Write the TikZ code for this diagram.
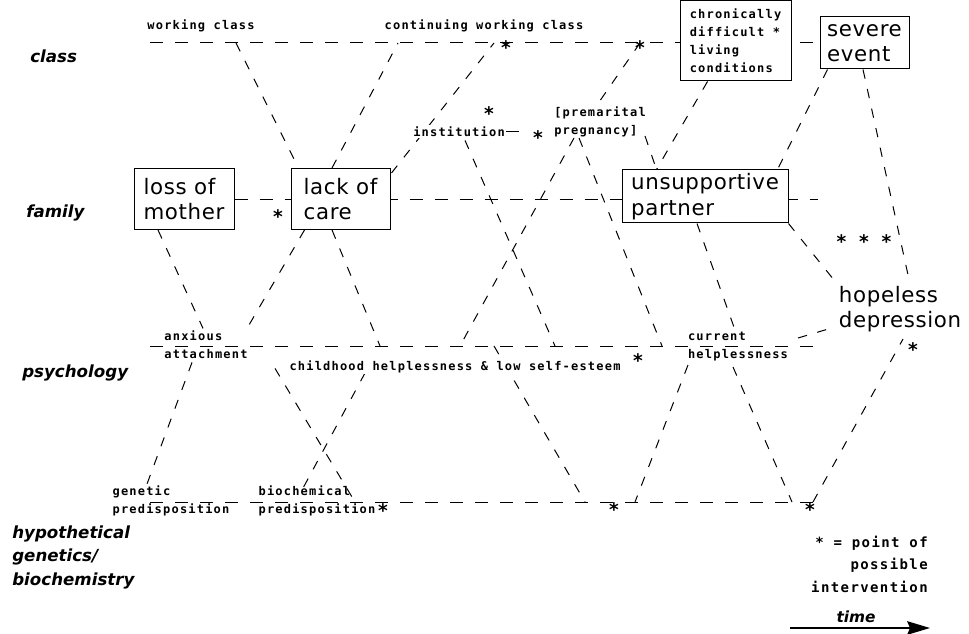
\documentclass[tikz,border=0pt]{standalone}
\usepackage{fontspec}
\setmainfont{DejaVu Sans}
\newfontfamily\monofam{DejaVu Sans Mono}[LetterSpace=10]
\newfontfamily\starfam{DejaVu Sans Mono}
\newfontfamily\boxfam{DejaVu Sans}[LetterSpace=3]
\usetikzlibrary{arrows.meta, calc, backgrounds}

\newcommand{\smallfnt}{\monofam\bfseries\fontsize{9}{13.5}\selectfont}
\newcommand{\legendfnt}{\monofam\bfseries\fontsize{10.5}{17}\selectfont}
\newcommand{\starfnt}{\starfam\bfseries\fontsize{14}{16}\selectfont}
\newcommand{\boxfnt}{\boxfam\fontsize{16}{19}\selectfont}
\newcommand{\levelfnt}{\bfseries\itshape\fontsize{12.5}{17.5}\selectfont}
\newcommand{\timefnt}{\bfseries\itshape\fontsize{11.5}{13}\selectfont}

\tikzset{
  layerline/.style={line width=0.75pt, dash pattern=on 9.75pt off 9pt},
  causal/.style={line width=0.75pt, dash pattern=on 7pt off 8pt},
  bigbox/.style={draw, line width=0.75pt, fill=white, font=\boxfnt, align=left, inner sep=1pt},
  smallbox/.style={draw, line width=0.75pt, fill=white, font=\smallfnt, align=left, inner sep=1pt},
  txt/.style={font=\smallfnt, align=left, inner sep=1pt},
  bigtxt/.style={font=\boxfnt, align=left, inner sep=1pt},
  levellabel/.style={font=\levelfnt, align=left, inner sep=0pt},
  ast/.style={font=\starfnt, inner sep=0pt, yshift=-2.7pt},
  timearrow/.style={line width=2pt, -{Stealth[length=17pt,width=10pt,inset=2pt]}},
}

\begin{document}
\begin{tikzpicture}[x=0.75pt, y=-0.75pt]
\useasboundingbox (0,0) rectangle (969,634);

% levels
\node[levellabel, anchor=base west] (lvclass) at (30,63) {class};
\node[levellabel, anchor=base west] (lvfamily) at (26,218) {family};
\node[levellabel, anchor=base west] (lvpsych) at (22,377) {psychology};
\node[levellabel, anchor=north west] (lvgen) at (12,525.5) {hypothetical\\genetics/\\biochemistry};

% boxes
\node[bigbox, minimum width=75pt, minimum height=45.75pt] (lossmother) at (184,199) {loss of\\mother};
\node[bigbox, minimum width=74.25pt, minimum height=45.75pt] (lackcare) at (340.5,199) {lack of\\care};
\node[bigbox, minimum width=124.5pt, minimum height=39.75pt] (partner) at (705,196.5) {unsupportive\\partner};
\node[bigbox, minimum width=66.75pt, minimum height=39pt] (severe) at (864.5,43) {severe\\event};
\node[smallbox, minimum width=83.25pt, minimum height=60pt] (chronic) at (735.5,41) {chronically\\difficult *\\living\\conditions};
\node[bigtxt] (hopeless) at (900,309) {hopeless\\depression};

% labels
\node[txt] (workclass) at (201,26) {working class};
\node[txt] (contclass) at (484,26) {continuing working class};
\node[txt, fill=white] (institution) at (459,131.4) {institution};
\node[txt] (pregnancy) at (600,122) {[premarital\\pregnancy]};
\node[txt] (anxious) at (206,344.4) {anxious\\attachment};
\node[txt, fill=white] (childhood) at (455,367) {childhood helplessness \& low self-esteem};
\node[txt] (current) at (738,347) {current\\helplessness};
\node[txt] (genetic) at (171,501) {genetic\\predisposition};
\node[txt] (biochem) at (317,501) {biochemical\\predisposition};

% points of possible intervention
\foreach \x/\y [count=\i] in {506/44, 640/44, 489/110, 538/134, 278/213, 638/357, 913/346, 383/507, 614/506, 810/506}
    \node[ast] (star\i) at (\x,\y) {*};
\node[ast] (threestars) at (864,238) {* * *};

\node[font=\legendfnt, align=right, inner sep=0pt, anchor=north east] (legend) at (928,535.5) {* = point of\\possible\\intervention};
\node[font=\timefnt, inner sep=0pt] (timelabel) at (856,616.5) {time};
\coordinate (timeL) at (790,628);
\coordinate (timeR) at (930,628);
\draw[timearrow] (timeL) -- (timeR);

% points on the level lines
\coordinate (classL) at (150,43);
\coordinate (wc) at (236,43);
\coordinate (cwA) at (398,43);
\coordinate (cwB) at (494,43);
\coordinate (cwC) at (640,43);
\coordinate (famR) at (818,200);
\coordinate (psyL) at (150,346);
\coordinate (psyA) at (380,346);
\coordinate (psyB) at (460,346);
\coordinate (psyC) at (494,346);
\coordinate (psyD) at (555,346);
\coordinate (psyE) at (662,346);
\coordinate (psyR) at (818,346);
\coordinate (genL) at (150,502);
\coordinate (genA) at (355,502);
\coordinate (genB) at (585,502);
\coordinate (genC) at (635,502);
\coordinate (genD) at (792,502);
\coordinate (genE) at (813,502);
\coordinate (genR) at (820,502);

\begin{pgfonlayer}{background}
\draw[layerline] (classL) -- (severe.west);
\draw[layerline] (lossmother.east |- famR) -- (famR);
\draw[layerline] (psyL) -- (psyR);
\draw[layerline] (genL) -- (genR);
\draw[layerline, shorten >=7.5pt] (institution.east) -- (institution.east -| star4);

% class and family
\draw[causal] (wc) -- ($(lackcare.north west)+(8,0)$);
\draw[causal] ($(lackcare.north)+(-8.5,0)$) -- (cwA);
\draw[causal] ($(lackcare.north east)+(1,5)$) -- (cwB);
\draw[causal] (cwC) -- ($(pregnancy)+(-3,-17)$);
\draw[causal] ($(institution)+(6,9)$) -- (psyD);
\draw[causal] ($(pregnancy)+(-26,16)$) -- (psyB);
\draw[causal] ($(pregnancy)+(-21,16)$) -- (psyE);
\draw[causal] ($(pregnancy)+(45,14)$) -- ($(partner.north west)+(35,0)$);
\draw[causal] ($(chronic.south)+(-28,0)$) -- ($(partner.north west)+(35,0)$);
\draw[causal] ($(severe.south west)+(8,0)$) -- ($(partner.north east)+(-11,0)$);
\draw[causal] ($(severe.south)+(-1.5,0)$) -- ($(hopeless)+(10,-25)$);
\draw[causal] (partner.south east) -- ($(hopeless)+(-62,-24)$);
\draw[causal] ($(partner.south)+(-8,0)$) -- ($(current)+(-3,-17)$);
\draw[causal] ($(current)+(60,-9)$) -- ($(hopeless)+(-65,18)$);

% psychology and genetics
\draw[causal] ($(lossmother.south)+(-26,0)$) -- ($(anxious)+(-3,-16)$);
\draw[causal] ($(lackcare.south west)+(14,0)$) -- ($(anxious)+(41,-16)$);
\draw[causal] ($(lackcare.south)+(-8.5,0)$) -- (psyA);
\draw[causal] ($(anxious)+(-14,18)$) -- ($(genetic)+(-24,-17)$);
\draw[causal] ($(anxious)+(69,24)$) -- (genA);
\draw[causal] ($(childhood)+(-90,6)$) -- ($(biochem)+(-15,-11)$);
\draw[causal] (psyC) -- (genB);
\draw[causal] ($(current)+(-50,18)$) -- (genC);
\draw[causal] ($(current)+(-5,20)$) -- (genD);
\draw[causal] (genE) -- ($(hopeless)+(3,30)$);
\end{pgfonlayer}
\end{tikzpicture}
\end{document}
